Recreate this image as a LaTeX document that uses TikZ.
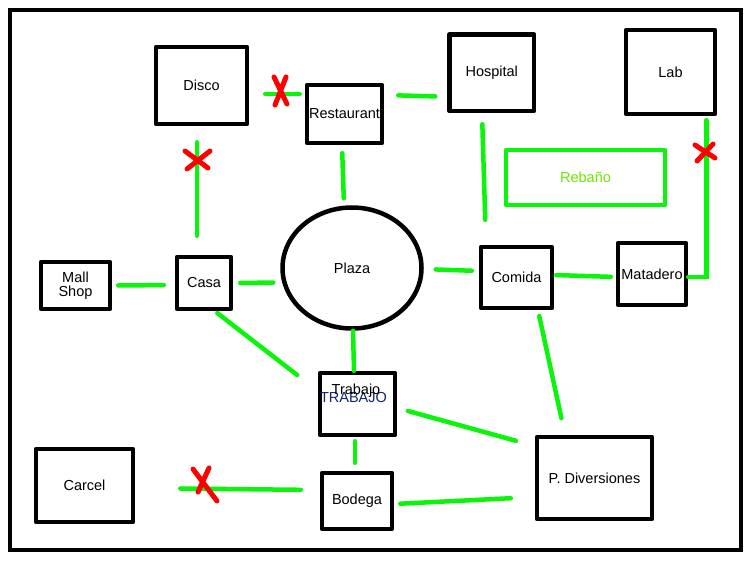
\documentclass[tikz,border=0pt]{standalone}
\usepackage{fontspec}
\setmainfont{Liberation Sans}
\usetikzlibrary{shapes.geometric}
\definecolor{paintgreen}{RGB}{10,245,10}
\definecolor{paintred}{RGB}{255,0,0}
\definecolor{rebanotext}{RGB}{110,230,0}
\definecolor{trabajoblue}{RGB}{20,35,110}
\tikzset{place/.style={draw, line width=4.5pt, line join=round, inner sep=0pt, align=center, font=\fontsize{14.5}{14}\selectfont},
  link/.style={draw=paintgreen, line width=4.5pt, line cap=round},
  nope/.style={draw=paintred, line width=5pt, line cap=round}}

\begin{document}
\begin{tikzpicture}[x=1pt, y=-1pt]
            \useasboundingbox (0,0) rectangle (751,560);
            \draw[line width=4.5pt] (10,10) rectangle (741,550);
            % places
            \node[place, minimum width=91pt, minimum height=77pt] (disco) at (201.5,85.5) {Disco};
            \node[place, minimum width=75pt, minimum height=58pt] (restaurant) at (344.5,114) {Restaurant};
            \node[place, minimum width=84.5pt, minimum height=76.5pt] (hospital) at (491.75,72.75) {Hospital};
            \node[place, minimum width=89pt, minimum height=84pt] (lab) at (670.5,72) {Lab};
            \node[place, draw=paintgreen, text=rebanotext, minimum width=159pt, minimum height=55pt] (rebano) at (585.5,177.5) {Rebaño};
            \node[place, minimum width=69pt, minimum height=47pt] (mall_shop) at (75.5,285.5) {Mall\\Shop};
            \node[place, minimum width=54pt, minimum height=52pt] (casa) at (204,283) {Casa};
            \node[place, ellipse, minimum width=139pt, minimum height=121pt] (plaza) at (352,268) {Plaza};
            \node[place, minimum width=71pt, minimum height=61pt] (comida) at (516.5,277.5) {Comida};
            \node[place, minimum width=68pt, minimum height=62pt] (matadero) at (652,274) {Matadero};
            \node[place, minimum width=75pt, minimum height=62pt] (trabajo) at (357.5,404) {};
            \node[font=\fontsize{14.5}{14}\selectfont, text=trabajoblue] (trabajo_caps) at (353.5,397.5) {TRABAJO};
            \node[font=\fontsize{14.5}{14}\selectfont] (trabajo_text) at (356,390.5) {Trabajo};
            \node[place, minimum width=115pt, minimum height=82pt] (diversiones) at (594.5,478) {P. Diversiones};
            \node[place, minimum width=97pt, minimum height=73pt] (carcel) at (84.5,485.5) {Carcel};
            \node[place, minimum width=70pt, minimum height=56pt] (bodega) at (357,501) {Bodega};
            % connections
            \draw[link, shorten <=16pt, shorten >=5pt] ([yshift=-8.5pt]disco.east) -- ([yshift=20pt]restaurant.west);
            \draw[link, shorten <=14pt, shorten >=12pt] ([yshift=19pt]restaurant.east) -- ([yshift=-24pt]hospital.west);
            \draw[link, shorten <=16pt, shorten >=19pt] ([xshift=-4.5pt]disco.south) -- ([xshift=-7pt]casa.north);
            \draw[link, shorten <=8pt, shorten >=7pt] ([xshift=-2.5pt]restaurant.south) -- ([xshift=-8pt]plaza.north);
            \draw[link, shorten <=11pt, shorten >=25pt] ([xshift=-9.75pt]hospital.south) -- ([xshift=-30.5pt]comida.north);
            \draw[link, shorten <=4pt] ([xshift=36pt]lab.south) |- ([yshift=-3pt]matadero.east);
            \draw[link, shorten <=6pt, shorten >=11pt] (mall_shop.east) -- ([yshift=-2pt]casa.west);
            \draw[link, shorten <=7pt, shorten >=7pt] (casa.east) -- ([yshift=-14.5pt]plaza.west);
            \draw[link, shorten <=12pt, shorten >=7pt] ([yshift=-1pt]plaza.east) -- ([yshift=6.5pt]comida.west);
            \draw[link, shorten <=2pt, shorten >=5pt] ([yshift=2.5pt]comida.east) -- ([yshift=-3pt]matadero.west);
            \draw[link, shorten <=3pt, shorten >=26pt] ([xshift=11pt]casa.south) -- ([yshift=13pt]trabajo.west);
            \draw[link] ([xshift=1pt]plaza.south) -- ([xshift=-3.5pt]trabajo.north);
            \draw[link, shorten <=6pt, shorten >=17pt] ([xshift=21.5pt]comida.south) -- ([xshift=-29.5pt]diversiones.north);
            \draw[link, shorten <=11pt, shorten >=19.5pt] ([yshift=-4pt]trabajo.east) -- ([yshift=32pt]diversiones.west);
            \draw[link, shorten <=4pt, shorten >=8pt] ([xshift=-2.5pt]trabajo.south) -- ([xshift=-2pt]bodega.north);
            \draw[link, shorten <=45pt, shorten >=19pt] ([yshift=-2.5pt]carcel.east) -- ([yshift=11pt]bodega.west);
            \draw[link, shorten <=6pt, shorten >=24pt] ([yshift=-3pt]bodega.east) -- ([yshift=-19pt]diversiones.west);
            % closed roads
            \draw[nope] (274,77) -- (287,104) (286,77) -- (275,105);
            \draw[nope] (185,151) -- (208,168) (210,151) -- (187,169);
            \draw[nope] (695,145) -- (715,158) (713,144) -- (697,161);
            \draw[nope] (193,469) -- (217,501) (209,468) -- (198,492);
      \end{tikzpicture}
\end{document}
